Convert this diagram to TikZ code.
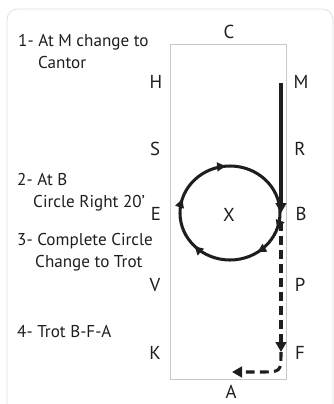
\documentclass[tikz,border=0pt]{standalone}
\usepackage{fontspec}
\setmainfont{PT Sans}
\usetikzlibrary{arrows.meta,decorations.markings}
\definecolor{ink}{HTML}{1E1E1E}
\definecolor{rail}{HTML}{C8C8C8}
\definecolor{frame}{HTML}{DCDCDC}
\tikzset{
  lbl/.style={font=\fontsize{16}{18}\selectfont, text=ink, inner sep=0pt},
  note/.style={font=\fontsize{14.6}{17}\selectfont, text=ink, inner sep=0pt, anchor=base west},
}

\begin{document}
\begin{tikzpicture}[x=0.3mm, y=-0.3mm,
  letter/.style={lbl, anchor=base},
  ride/.style={-{Triangle[length=3mm, width=3.2mm]}, line width=2.6pt, ink},
  trot/.style={ride, dash pattern=on 7.5pt off 4.5pt},
  loop/.style={line width=2.6pt, ink, postaction={decorate}, decoration={markings,
    mark=at position 0.053 with {\arrow{Triangle[length=2.6mm, width=2.6mm]}},
    mark=at position 0.155 with {\arrow{Triangle[length=2.6mm, width=2.6mm]}},
    mark=at position 0.378 with {\arrow{Triangle[length=2.6mm, width=2.6mm]}},
    mark=at position 0.547 with {\arrow{Triangle[length=2.6mm, width=2.6mm]}},
    mark=at position 0.736 with {\arrow{Triangle[length=2.6mm, width=2.6mm]}}}}]
\useasboundingbox (0,0) rectangle (334,404);
\draw[frame, line width=0.6pt, rounded corners=9pt] (7,9) rectangle (333,430);
% arena
\draw[rail, line width=0.8pt] (170,44) rectangle (286,379);
\node[letter] (C) at (229,38) {C};
\node[letter] (H) at (156,88) {H};
\node[letter] (M) at (301,88) {M};
\node[letter] (S) at (155,155) {S};
\node[letter] (R) at (300,155) {R};
\node[letter] (E) at (156,220) {E};
\node[letter] (B) at (301,220) {B};
\node[letter] (V) at (155,291) {V};
\node[letter] (P) at (300,291) {P};
\node[letter] (K) at (155,359) {K};
\node[letter] (F) at (300,359) {F};
\node[letter] (A) at (231,398) {A};
\node[letter] (X) at (229,221) {X};
% notes
\node[note] (noteOneA) at (18,46) {1- At M change to};
\node[note] (noteOneB) at (38,68) {Cantor};
\node[note] (noteTwoA) at (17,185) {2- At B};
\node[note] (noteTwoB) at (33,207) {Circle Right 20'};
\node[note] (noteThreeA) at (17,245) {3- Complete Circle};
\node[note] (noteThreeB) at (35,267) {Change to Trot};
\node[note] (noteFour) at (17,337) {4- Trot B-F-A};
% route
\coordinate (atM) at (281,83);
\coordinate (atB) at (281,213);
\coordinate (offB) at (281,222);
\coordinate (atF) at (281,352);
\coordinate (toA) at (232,372);
\draw[ride] (atM) -- (atB);
\draw[loop] (230,213) ellipse [x radius=50, y radius=47];
\draw[trot] (offB) -- (atF);
\draw[trot] (atF) .. controls (281,372) .. (260,372) -- (toA);
\end{tikzpicture}
\end{document}
